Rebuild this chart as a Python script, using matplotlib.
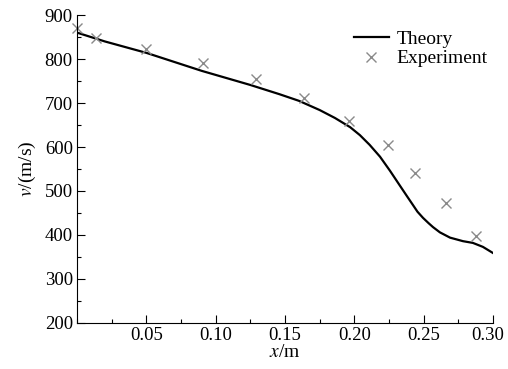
import matplotlib
matplotlib.use("Agg")
from matplotlib import pyplot as plt
from matplotlib.ticker import MultipleLocator
from matplotlib.transforms import ScaledTranslation

plt.rcParams['font.family'] = ['Liberation Serif', 'DejaVu Serif']
plt.rcParams['mathtext.fontset'] = 'stix'
plt.rcParams['font.size'] = 14

# theory curve
theory_x = [0.0, 0.02, 0.05, 0.09, 0.125, 0.146, 0.160, 0.175, 0.186, 0.197,
            0.204, 0.211, 0.2185, 0.2257, 0.2329, 0.238, 0.2423, 0.2455, 0.2495,
            0.2535, 0.2567, 0.2617, 0.269, 0.2783, 0.2855, 0.2927, 0.30]
theory_v = [860, 840, 814, 773, 741, 720, 705, 684, 666, 645,
            627, 605, 578, 546, 512, 488, 468, 453, 439,
            427, 418, 406, 394, 386, 382, 373, 359]

# experiment points
exp_x = [0.0, 0.014, 0.050, 0.091, 0.129, 0.164, 0.196, 0.224, 0.244, 0.266, 0.288]
exp_v = [870, 848, 823, 791, 755, 711, 659, 605, 541, 473, 398]

xticks = [0.05, 0.10, 0.15, 0.20, 0.25, 0.30]
xticklabels = ["0.05", "0.10", "0.15", "0.20", "0.25", "0.30"]

fig = plt.figure(figsize=(5.08, 3.69), dpi=100)
ax = fig.add_axes([0.1516, 0.1247, 0.8189, 0.8346])

ax.plot(theory_x, theory_v, color="black", lw=1.6, label="Theory")
ax.plot(exp_x, exp_v, ls="none", marker="x", ms=6.5, mew=1.0,
        color="#8a8a8a", label="Experiment", clip_on=False)

ax.set_xlim(0, 0.30)
ax.set_ylim(200, 900)
ax.set_xticks(xticks)
ax.set_xticklabels(xticklabels)
ax.xaxis.set_minor_locator(MultipleLocator(0.025))
ax.yaxis.set_major_locator(MultipleLocator(100))
ax.yaxis.set_minor_locator(MultipleLocator(50))

ax.spines['top'].set_visible(False)
ax.spines['right'].set_visible(False)
ax.tick_params(which='major', direction='in', length=6, width=0.8, labelsize=13.5, pad=3)
ax.tick_params(which='minor', direction='in', length=3, width=0.8)

# last x label sits a little left of its tick, as in the original
last = ax.get_xticklabels()[-1]
last.set_transform(last.get_transform() + ScaledTranslation(-4 / 72, 0, fig.dpi_scale_trans))

ax.set_xlabel("$x$/m", fontsize=14, labelpad=0)
ax.set_ylabel("$v$/(m/s)", fontsize=14, labelpad=5)

ax.legend(loc="upper right", frameon=False, fontsize=14, handlelength=1.8,
          handletextpad=0.4, labelspacing=0.1, borderaxespad=0.3,
          bbox_to_anchor=(1.02, 0.995))

fig.savefig("out.png", dpi=100)
